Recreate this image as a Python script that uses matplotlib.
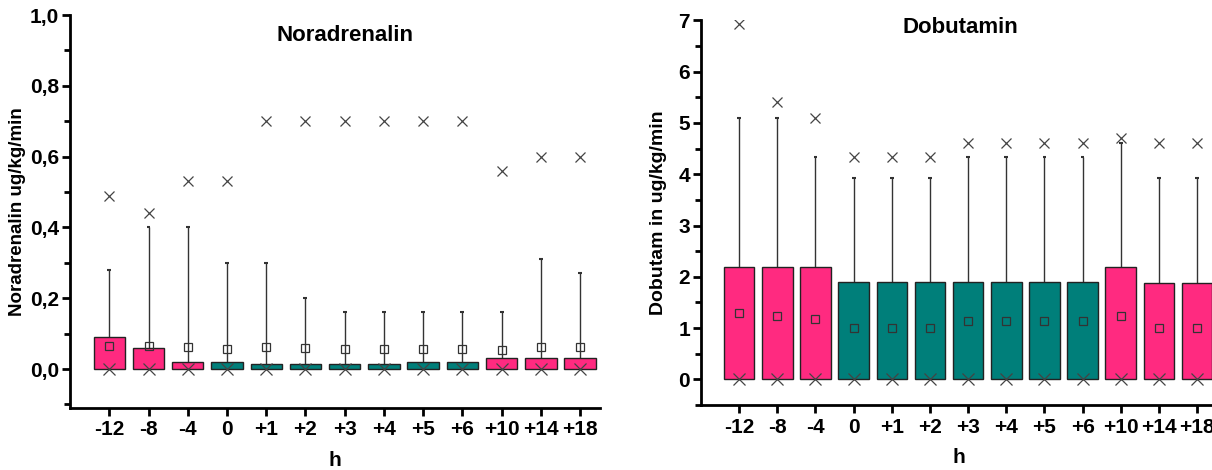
import numpy as np
import matplotlib
matplotlib.use('Agg')
from matplotlib import pyplot as plt
from matplotlib.ticker import MultipleLocator, FixedLocator, FixedFormatter

plt.rcParams['font.family'] = ['Liberation Sans', 'DejaVu Sans']
plt.rcParams['font.weight'] = 'bold'

hours = ['-12', '-8', '-4', '0', '+1', '+2', '+3', '+4', '+5', '+6', '+10', '+14', '+18']
group = ['p', 'p', 'p', 't', 't', 't', 't', 't', 't', 't', 'p', 'p', 'p']

# Noradrenalin
nor_box   = [0.09, 0.06, 0.02, 0.02, 0.015, 0.015, 0.015, 0.015, 0.02, 0.02, 0.03, 0.03, 0.03]
nor_whisk = [0.28, 0.40, 0.40, 0.30, 0.30, 0.20, 0.16, 0.16, 0.16, 0.16, 0.16, 0.31, 0.27]
nor_mean  = [0.065, 0.065, 0.062, 0.057, 0.063, 0.058, 0.056, 0.056, 0.057, 0.057, 0.053, 0.062, 0.062]
nor_max   = [0.49, 0.44, 0.53, 0.53, 0.70, 0.70, 0.70, 0.70, 0.70, 0.70, 0.56, 0.60, 0.60]
nor_min   = [0, 0, 0, 0, 0, 0, 0, 0, 0, 0, 0, 0, 0]

# Dobutamin
dob_box   = [2.2, 2.2, 2.2, 1.9, 1.9, 1.9, 1.9, 1.9, 1.9, 1.9, 2.2, 1.88, 1.88]
dob_whisk = [5.1, 5.1, 4.33, 3.92, 3.92, 3.92, 4.33, 4.33, 4.33, 4.33, 4.6, 3.92, 3.92]
dob_mean  = [1.30, 1.23, 1.18, 1.01, 1.01, 1.01, 1.13, 1.13, 1.13, 1.13, 1.23, 1.01, 1.01]
dob_max   = [6.93, 5.4, 5.1, 4.33, 4.33, 4.33, 4.6, 4.6, 4.6, 4.6, 4.7, 4.6, 4.6]
dob_min   = [0, 0, 0, 0, 0, 0, 0, 0, 0, 0, 0, 0, 0]

cmap = {'p': '#FF2A80', 't': '#007F7A'}
colors = [cmap[g] for g in group]


def draw(ax, box, whisk, mean, vmax, vmin, cap):
    x = np.arange(len(hours))
    ax.vlines(x, box, whisk, color='#333333', lw=1.0, zorder=2)
    ax.hlines(whisk, x - cap, x + cap, color='#333333', lw=1.5, zorder=2)
    ax.bar(x, box, width=0.8, color=colors, edgecolor='#222222', lw=1.0, zorder=3)
    ax.plot(x, mean, 's', ms=6, mfc='none', mec='#333333', mew=0.9, zorder=4)
    ax.plot(x, vmax, 'x', ms=7, color='#444444', mew=0.9, zorder=4)
    ax.plot(x, vmin, 'x', ms=9, color='#444444', mew=0.9, zorder=4)
    ax.set_xlim(-1, 12.5)
    ax.xaxis.set_major_locator(FixedLocator(x))
    ax.xaxis.set_major_formatter(FixedFormatter(hours))
    for s in ['top', 'right']:
        ax.spines[s].set_visible(False)
    for s in ['left', 'bottom']:
        ax.spines[s].set_linewidth(2)
    ax.tick_params(which='major', length=6, width=2, labelsize=15, direction='out')
    ax.tick_params(which='minor', length=4, width=2, direction='out')
    ax.tick_params(axis='x', pad=3)
    ax.tick_params(axis='y', pad=2)
    for lbl in ax.get_xticklabels() + ax.get_yticklabels():
        lbl.set_fontweight('bold')
    ax.set_xlabel('h', fontsize=15, fontweight='bold', labelpad=8)


fig = plt.figure(figsize=(12.12, 4.70), dpi=100)
ax1 = fig.add_axes([0.0578, 0.132, 0.437, 0.836])
ax2 = fig.add_axes([0.5784, 0.138, 0.425, 0.819])

draw(ax1, nor_box, nor_whisk, nor_mean, nor_max, nor_min, 0.05)
ax1.set_ylim(-0.11, 1.0)
ax1.yaxis.set_major_locator(FixedLocator([0, 0.2, 0.4, 0.6, 0.8, 1.0]))
ax1.yaxis.set_major_formatter(FixedFormatter(['0,0', '0,2', '0,4', '0,6', '0,8', '1,0']))
ax1.yaxis.set_minor_locator(FixedLocator([-0.1, 0.1, 0.3, 0.5, 0.7, 0.9]))
for lbl in ax1.get_yticklabels():
    lbl.set_fontweight('bold')
ax1.set_ylabel('Noradrenalin ug/kg/min', fontsize=13.5, fontweight='bold', labelpad=3)
ax1.text(0.52, 0.949, 'Noradrenalin', transform=ax1.transAxes, ha='center', va='center',
         fontsize=16, fontweight='bold')

draw(ax2, dob_box, dob_whisk, dob_mean, dob_max, dob_min, 0.05)
ax2.set_ylim(-0.5, 7.0)
ax2.yaxis.set_major_locator(MultipleLocator(1))
ax2.yaxis.set_minor_locator(FixedLocator([-0.5, 0.5, 1.5, 2.5, 3.5, 4.5, 5.5, 6.5]))
for lbl in ax2.get_yticklabels():
    lbl.set_fontweight('bold')
ax2.set_ylabel('Dobutam in ug/kg/min', fontsize=14, fontweight='bold', labelpad=8)
ax2.text(0.503, 0.982, 'Dobutamin', transform=ax2.transAxes, ha='center', va='center',
         fontsize=16, fontweight='bold')

fig.savefig('out.png', dpi=100)
